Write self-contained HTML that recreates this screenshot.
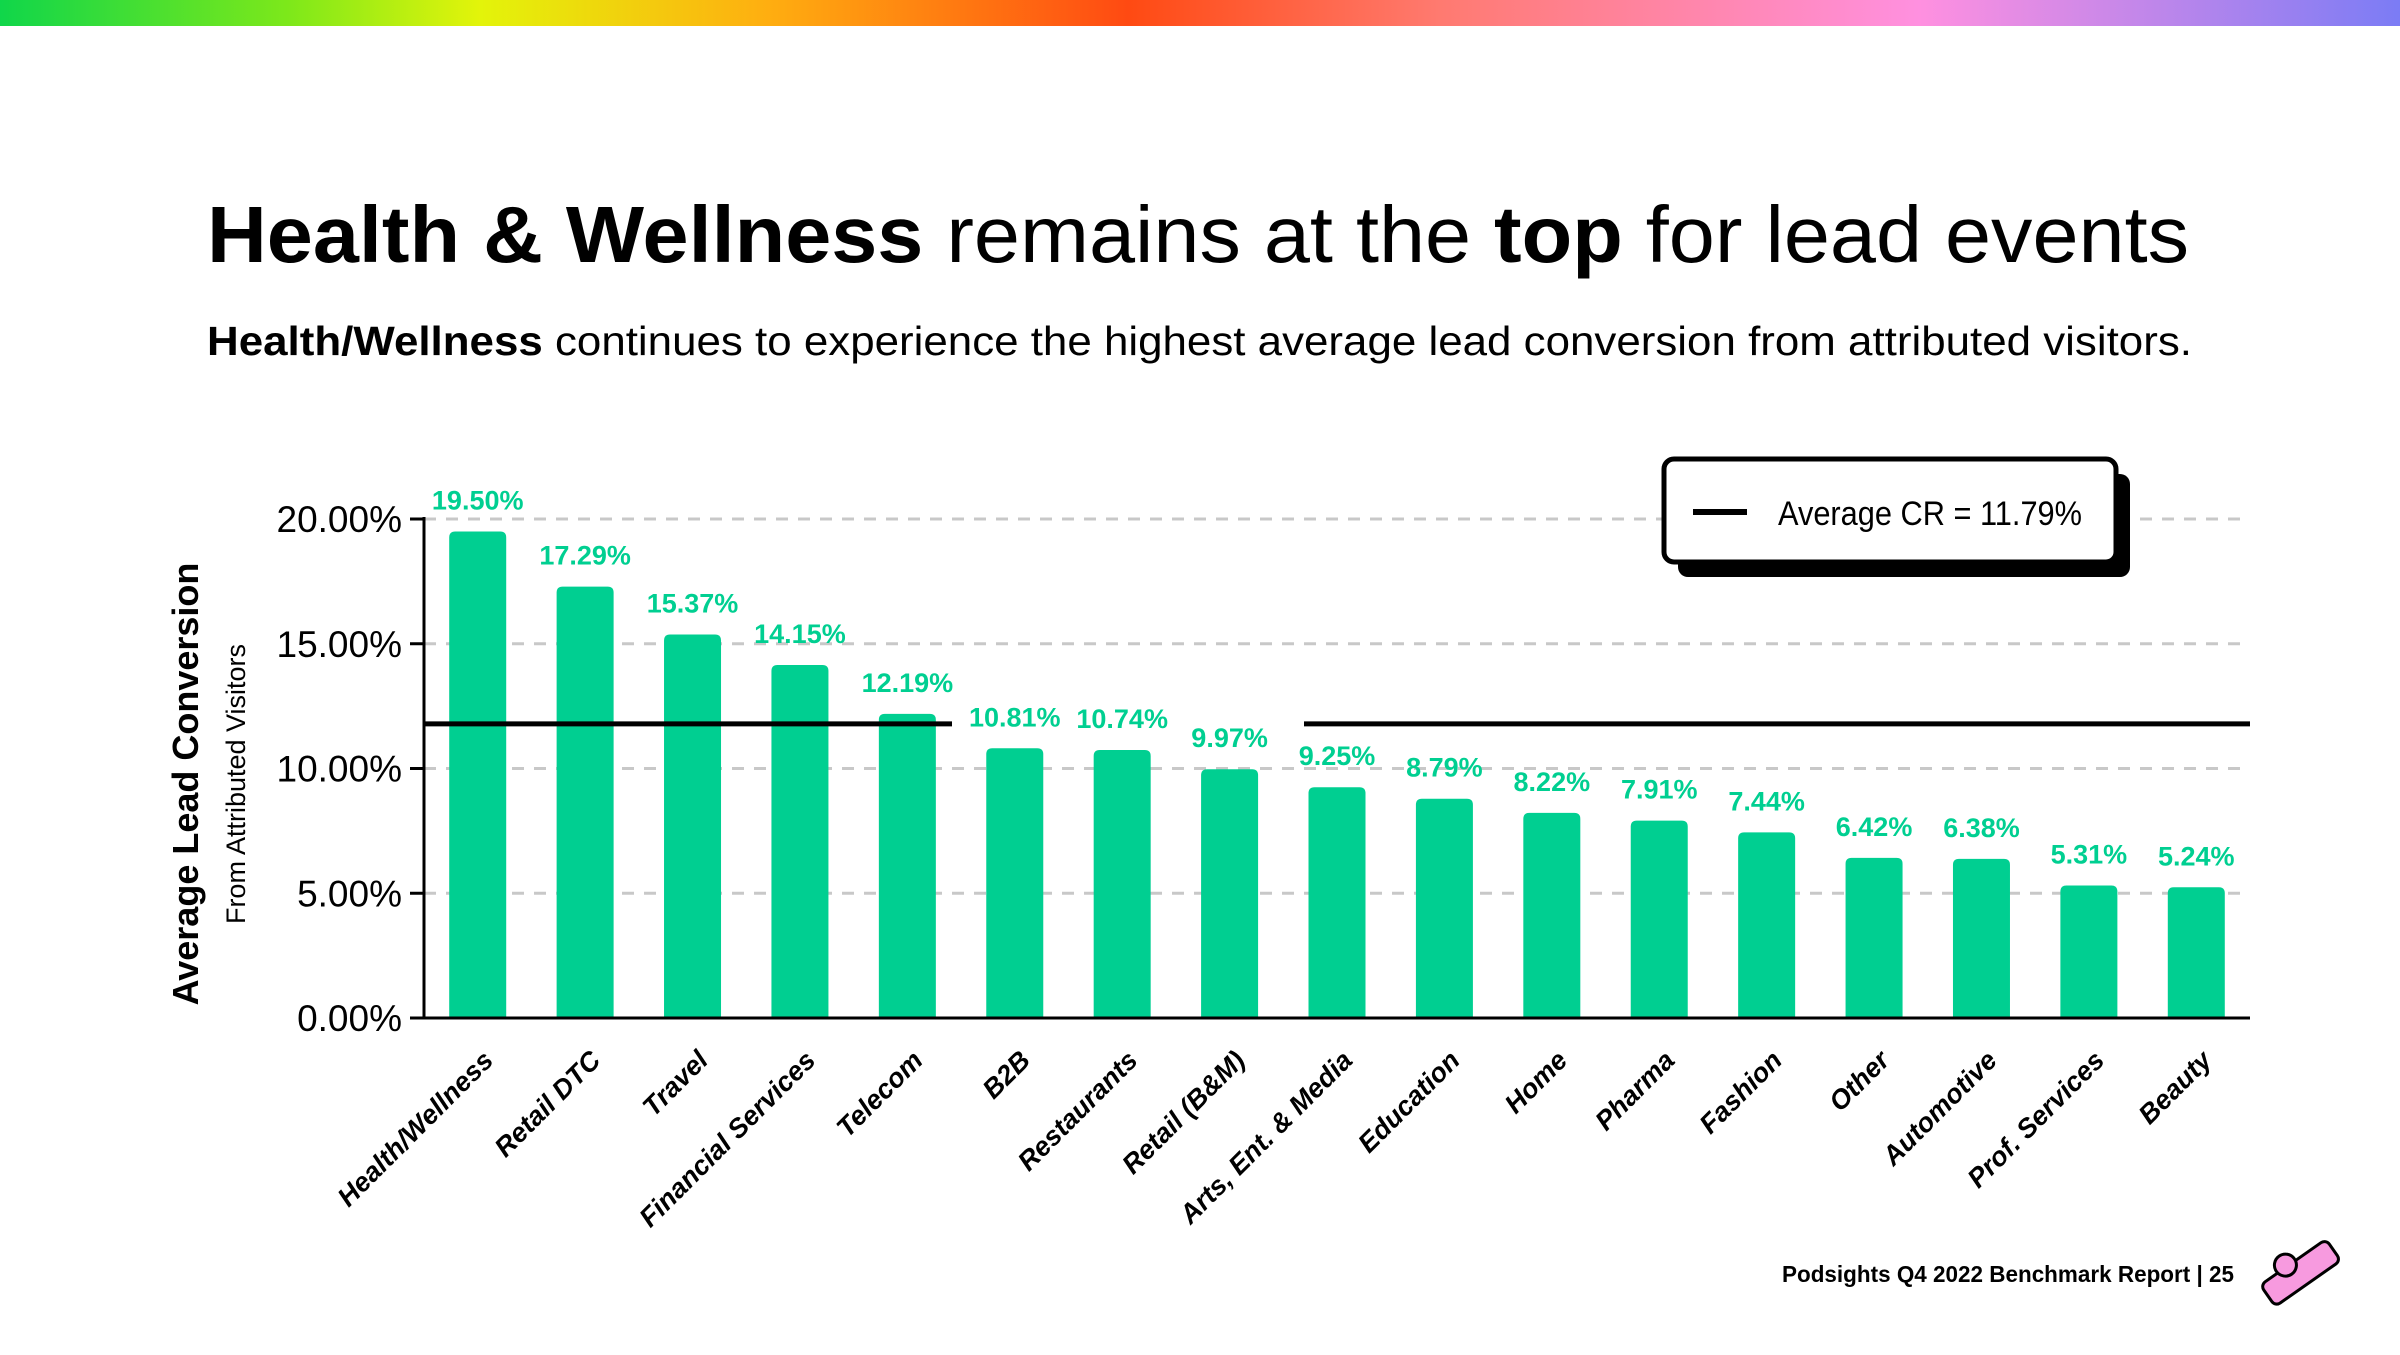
<!DOCTYPE html>
<html><head><meta charset="utf-8"><style>
html,body{margin:0;padding:0;background:#fff;}
body{width:2400px;height:1350px;overflow:hidden;font-family:"Liberation Sans",sans-serif;}
</style></head><body>
<svg id="chart" width="2400" height="1350" xmlns="http://www.w3.org/2000/svg">
<defs><linearGradient id="rb" x1="0" x2="1" y1="0" y2="0">
<stop offset="0" stop-color="#10d64a"/><stop offset="0.12" stop-color="#7de81a"/><stop offset="0.2" stop-color="#e3f40a"/><stop offset="0.32" stop-color="#ffae10"/><stop offset="0.47" stop-color="#ff4a12"/><stop offset="0.6" stop-color="#ff7a70"/><stop offset="0.8" stop-color="#ff90e0"/><stop offset="1" stop-color="#7b7cf5"/></linearGradient></defs>
<rect x="0" y="0" width="2400" height="26" fill="url(#rb)"/>
<text x="207" y="262" font-size="80" font-weight="bold" fill="#000" textLength="1982" lengthAdjust="spacingAndGlyphs">Health &amp; Wellness <tspan font-weight="normal">remains at the </tspan>top<tspan font-weight="normal"> for lead events</tspan></text>
<text x="207" y="355" font-size="41" font-weight="bold" fill="#000" textLength="1985" lengthAdjust="spacingAndGlyphs">Health/Wellness <tspan font-weight="normal">continues to experience the highest average lead conversion from attributed visitors.</tspan></text>
<g id="grid"></g><g id="bars"></g><g id="axes"></g>
<text transform="translate(198,784) rotate(-90)" text-anchor="middle" font-size="36" font-weight="bold">Average Lead Conversion</text>
<text transform="translate(245,784) rotate(-90)" text-anchor="middle" font-size="27">From Attributed Visitors</text>
<g>
<rect x="1678" y="474" width="452" height="103" rx="10" fill="#000"/>
<rect x="1664" y="459" width="452" height="103" rx="10" fill="#fff" stroke="#000" stroke-width="5"/>
<line x1="1693" y1="512" x2="1747" y2="512" stroke="#000" stroke-width="6"/>
<text x="1778" y="525" font-size="34" textLength="304" lengthAdjust="spacingAndGlyphs">Average CR = 11.79%</text>
</g>
<text x="1782" y="1282" font-size="23" font-weight="bold" textLength="452" lengthAdjust="spacingAndGlyphs">Podsights Q4 2022 Benchmark Report | 25</text>
<g transform="translate(2300,1272) rotate(-35)">
<rect x="-40" y="-12" width="80" height="26" rx="6" fill="#f79adf" stroke="#000" stroke-width="3"/>
<circle cx="-8" cy="-14" r="11" fill="#f79adf" stroke="#000" stroke-width="3"/>
</g>
</svg>
<script>
const categories=["Health/Wellness","Retail DTC","Travel","Financial Services","Telecom","B2B","Restaurants","Retail (B&M)","Arts, Ent. & Media","Education","Home","Pharma","Fashion","Other","Automotive","Prof. Services","Beauty"];
const values=[19.50,17.29,15.37,14.15,12.19,10.81,10.74,9.97,9.25,8.79,8.22,7.91,7.44,6.42,6.38,5.31,5.24];
const yTicks=[0,5,10,15,20];
const average=11.79;
const NS="http://www.w3.org/2000/svg";
const X0=424,X1=2250,Y0=1018,Y20=519;
const band=(X1-X0)/categories.length, bw=57;
function y(v){return Y0-(v/20)*(Y0-Y20);}
function cx(i){return X0+band*(i+0.5);}
function mk(tag,attrs,parent,txt){const e=document.createElementNS(NS,tag);for(const k in attrs)e.setAttribute(k,attrs[k]);if(txt!==undefined)e.textContent=txt;parent.appendChild(e);return e;}
const grid=document.getElementById('grid'),bars=document.getElementById('bars'),axes=document.getElementById('axes');
yTicks.forEach(t=>{
 if(t>0){const g=mk('line',{x1:X0,x2:X1,y1:y(t),y2:y(t),stroke:'#c8c8c8','stroke-width':3,'stroke-dasharray':'12 10'},grid);
 
 }
 const tk=mk('line',{x1:X0-14,x2:X0,y1:y(t),y2:y(t),stroke:'#000','stroke-width':3},axes);
 
 
 const lb=mk('text',{x:X0-22,y:y(t)+13,'text-anchor':'end','font-size':37},axes,t.toFixed(2)+'%');
 
 
});
values.forEach((v,i)=>{
 const top=y(v);
 const b=mk('path',{d:`M${cx(i)-bw/2},${Y0} V${top+6} Q${cx(i)-bw/2},${top} ${cx(i)-bw/2+6},${top} H${cx(i)+bw/2-6} Q${cx(i)+bw/2},${top} ${cx(i)+bw/2},${top+6} V${Y0} Z`,fill:'#00cf91'},bars);
 
 
 const vl=mk('text',{x:cx(i),y:top-22,'text-anchor':'middle','font-size':27,'font-weight':'bold',fill:'#00cf91'},bars,v.toFixed(2)+'%');
 
 
 const xl=mk('text',{transform:`translate(${cx(i)+17},${Y0+44}) rotate(-45)`,'text-anchor':'end','font-size':27,'font-weight':'bold','font-style':'italic'},axes,categories[i]);
 
 
});
const ya=mk('line',{x1:X0,x2:X0,y1:Y20-2,y2:Y0,stroke:'#000','stroke-width':3},axes);


const xa=mk('line',{x1:X0-14,x2:X1,y1:Y0,y2:Y0,stroke:'#000','stroke-width':3},axes);


const a1=mk('line',{x1:X0,x2:952,y1:y(average),y2:y(average),stroke:'#000','stroke-width':5},axes);


const a2=mk('line',{x1:1304,x2:X1,y1:y(average),y2:y(average),stroke:'#000','stroke-width':5},axes);


</script>
</body></html>
